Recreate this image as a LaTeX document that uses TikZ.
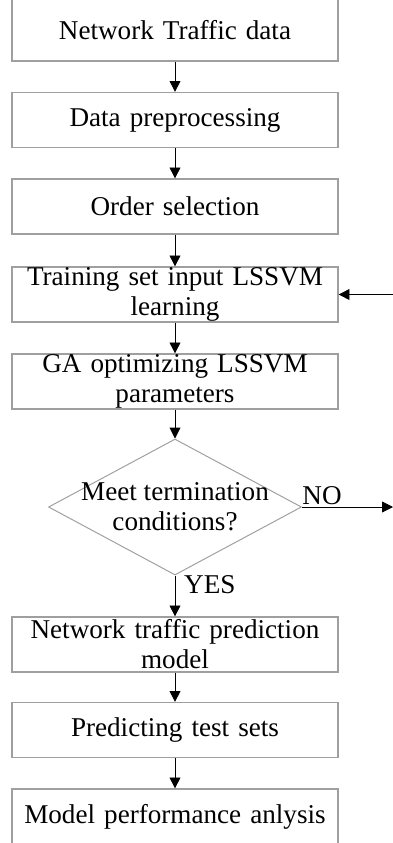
\documentclass[tikz,border=0pt]{standalone}
\usepackage{fontspec}
\setmainfont{Liberation Serif}
\usepackage{tikz}
\usetikzlibrary{shapes.geometric}
\usetikzlibrary{arrows.meta}
\tikzstyle{etape}=[
        rectangle,
        draw=gray!75,
        line width=0.9pt,
        minimum width=8.15cm,
        minimum height=1.375cm,
        text width=7.9cm,
        align=center,
        inner sep=0pt,
        font=\fontsize{19.3}{21.3}\selectfont
]
\tikzstyle{decision}=[diamond,draw=gray!75,line width=0.7pt,minimum width=6.325cm,minimum height=3.4cm,inner sep=0pt]
\tikzstyle{etiq}=[font=\fontsize{19.3}{21.3}\selectfont,inner sep=0pt]
\tikzstyle{fleche}=[-{Triangle[length=0.27cm,width=0.27cm]},line width=0.6pt]
\begin{document}
\begin{tikzpicture}
\clip (0,0) rectangle (9.825,-21.075);
\node[etape,minimum height=1.55cm] (a) at (4.375,-0.75) {Network Traffic data};
\node[etape] (b) at (4.375,-3.0) {Data preprocessing};
\node[etape] (c) at (4.375,-5.1625) {Order selection};
\node[etape] (d) at (4.375,-7.3625) {Training set input LSSVM\\learning};
\node[etape] (e) at (4.375,-9.5375) {GA optimizing LSSVM\\parameters};
\node[decision,label={[etiq,align=center]center:Meet termination\\conditions?}] (test) at (4.375,-12.675) {};
\node[etape] (f) at (4.375,-16.1125) {Network traffic prediction\\model};
\node[etape] (g) at (4.375,-18.25) {Predicting test sets};
\node[etape,minimum height=1.4cm] (h) at (4.375,-20.425) {Model performance anlysis};
\coordinate (sortie) at (9.825,-12.675);
\coordinate (retour) at (9.9,-7.3625);
%Edges
\draw[fleche] (a) -- (b);
\draw[fleche] (b) -- (c);
\draw[fleche] (c) -- (d);
\draw[fleche] (d) -- (e);
\draw[fleche] (e) -- (test);
\draw[fleche] (test) -- (sortie) node[pos=0,anchor=south west,etiq,yshift=1pt]{NO};
\draw[fleche] (test) -- (f) node[pos=0,anchor=north west,etiq,xshift=0.22cm]{YES};
\draw[fleche] (f) -- (g);
\draw[fleche] (g) -- (h);
\draw[fleche] (retour) -- (d);
\end{tikzpicture}
\end{document}
